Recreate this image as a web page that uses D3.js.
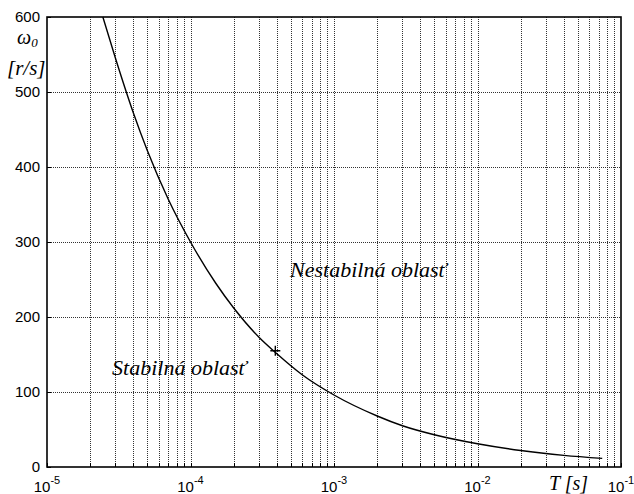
<!DOCTYPE html>
<html>
<head>
<meta charset="utf-8">
<script src="https://cdn.jsdelivr.net/npm/d3@7"></script>
<style>
  body { margin: 0; background: #fff; }
  svg { display: block; }
</style>
</head>
<body>
<script>
// Period T [s] and boundary frequency omega0 [r/s]
const tValues = [2.45e-5, 3e-5, 4e-5, 5e-5, 7e-5, 1e-4, 1.5e-4, 2e-4, 3e-4, 4e-4, 6e-4, 1e-3, 2e-3, 3e-3, 5e-3, 1e-2, 2e-2, 4e-2, 7.4e-2];
const omegaValues = [600, 545, 472, 422, 357, 300, 245, 212, 173, 151, 123, 96, 68, 55, 43, 31, 22, 15.5, 11.5];
const markPoint = [3.9e-4, 155];
const xDecades = [-5, -4, -3, -2, -1];
const yTicks = [0, 100, 200, 300, 400, 500, 600];
const regionLabels = [
  { text: "Nestabilná oblasť", t: 4.94e-4, w: 253 },
  { text: "Stabilná oblasť", t: 2.84e-5, w: 123 }
];

const width = 634, height = 494;
const margin = { top: 17, right: 13, bottom: 27, left: 47 };

const svg = d3.select("body").append("svg")
  .attr("width", width)
  .attr("height", height);

const x = d3.scaleLog()
  .domain([1e-5, 1e-1])
  .range([margin.left, width - margin.right]);
const y = d3.scaleLinear()
  .domain([0, 600])
  .range([height - margin.bottom, margin.top]);

// minor + major grid values along x
const xGrid = [];
for (let e = -5; e < -1; e++) {
  for (let m = 1; m <= 9; m++) xGrid.push(m * Math.pow(10, e));
}
xGrid.push(1e-1);

const grid = svg.append("g")
  .attr("stroke", "#333")
  .attr("stroke-width", 1)
  .attr("stroke-dasharray", "1,1");

grid.selectAll("line.vx")
  .data(xGrid.filter(v => v > 1e-5 && v < 1e-1))
  .enter().append("line")
  .attr("class", "vx")
  .attr("x1", d => Math.round(x(d)) + 0.5)
  .attr("x2", d => Math.round(x(d)) + 0.5)
  .attr("y1", y(600))
  .attr("y2", y(0));

grid.selectAll("line.hy")
  .data(yTicks.filter(v => v > 0 && v < 600))
  .enter().append("line")
  .attr("class", "hy")
  .attr("x1", x(1e-5))
  .attr("x2", x(1e-1))
  .attr("y1", d => Math.round(y(d)) + 0.5)
  .attr("y2", d => Math.round(y(d)) + 0.5);

// small inward ticks
const ticks = svg.append("g").attr("stroke", "#000").attr("stroke-width", 1);
ticks.selectAll("line.tb")
  .data(xGrid)
  .enter().append("line")
  .attr("x1", d => Math.round(x(d)) + 0.5)
  .attr("x2", d => Math.round(x(d)) + 0.5)
  .attr("y1", y(0))
  .attr("y2", y(0) - 4);
ticks.selectAll("line.tl")
  .data(yTicks)
  .enter().append("line")
  .attr("x1", x(1e-5))
  .attr("x2", x(1e-5) + 4)
  .attr("y1", d => Math.round(y(d)) + 0.5)
  .attr("y2", d => Math.round(y(d)) + 0.5);

// frame
svg.append("rect")
  .attr("x", x(1e-5))
  .attr("y", y(600))
  .attr("width", x(1e-1) - x(1e-5))
  .attr("height", y(0) - y(600))
  .attr("fill", "none")
  .attr("stroke", "#000")
  .attr("stroke-width", 1.6);

// curve
const line = d3.line()
  .x((d, i) => x(tValues[i]))
  .y(d => y(d))
  .curve(d3.curveMonotoneX);

svg.append("path")
  .attr("d", line(omegaValues))
  .attr("fill", "none")
  .attr("stroke", "#000")
  .attr("stroke-width", 1.4);

// marker
svg.append("path")
  .attr("transform", `translate(${x(markPoint[0])},${y(markPoint[1])})`)
  .attr("d", "M-5,0H5M0,-5V5")
  .attr("stroke", "#000")
  .attr("stroke-width", 1.4);

// y tick labels
svg.append("g").selectAll("text")
  .data(yTicks)
  .enter().append("text")
  .attr("x", 40)
  .attr("y", d => y(d))
  .attr("dy", "0.36em")
  .attr("text-anchor", "end")
  .style("font-family", "'Liberation Sans', Arial, sans-serif")
  .style("font-size", "15px")
  .text(d => d);

// x tick labels 10^e
const xl = svg.append("g").selectAll("text")
  .data(xDecades)
  .enter().append("text")
  .attr("x", d => x(Math.pow(10, d)))
  .attr("y", 492)
  .attr("text-anchor", "middle")
  .style("font-family", "'Liberation Sans', Arial, sans-serif")
  .style("font-size", "15px");
xl.append("tspan").text("10");
xl.append("tspan")
  .attr("dy", -8)
  .style("font-size", "11px")
  .text(d => d);

// axis titles
const serif = "'Liberation Serif', 'Times New Roman', serif";
const w0 = svg.append("text")
  .attr("x", 17)
  .attr("y", 44)
  .style("font-family", serif)
  .style("font-style", "italic")
  .style("font-size", "20px");
w0.append("tspan").text("ω");
w0.append("tspan").attr("dy", 3).style("font-size", "13px").text("0");

svg.append("text")
  .attr("x", 7)
  .attr("y", 75)
  .style("font-family", serif)
  .style("font-style", "italic")
  .style("font-size", "21px")
  .text("[r/s]");

svg.append("text")
  .attr("x", 549)
  .attr("y", 490)
  .style("font-family", serif)
  .style("font-style", "italic")
  .style("font-size", "20px")
  .text("T [s]");

// region labels
svg.append("g").selectAll("text")
  .data(regionLabels)
  .enter().append("text")
  .attr("x", d => x(d.t))
  .attr("y", d => y(d.w))
  .style("font-family", serif)
  .style("font-style", "italic")
  .style("font-size", "22px")
  .text(d => d.text);
</script>
</body>
</html>
